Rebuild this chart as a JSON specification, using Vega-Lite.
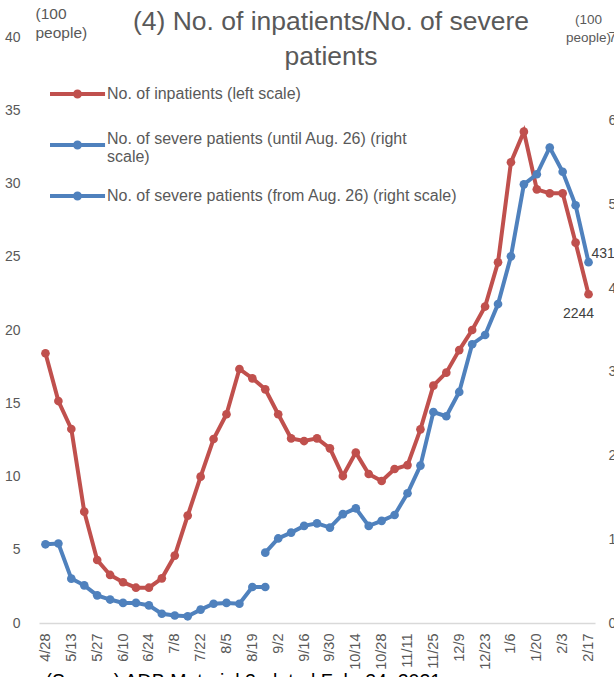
{
  "$schema": "https://vega.github.io/schema/vega-lite/v6.json",
  "width": 556,
  "height": 586,
  "autosize": "none",
  "padding": {"left": 39, "top": 37, "right": 19, "bottom": 54},
  "title": {
    "text": ["(4) No. of inpatients/No. of severe", "patients"],
    "font": "Liberation Sans",
    "fontSize": 26.5,
    "fontWeight": "normal",
    "color": "#595959",
    "anchor": "middle",
    "frame": "group",
    "lineHeight": 35,
    "offset": -64,
    "dx": 14
  },
  "config": {
    "view": {"stroke": null},
    "axis": {
      "grid": false,
      "ticks": false,
      "labelFont": "Liberation Sans",
      "labelColor": "#595959",
      "labelFontSize": 14,
      "titleFont": "Liberation Sans",
      "titleColor": "#595959",
      "titleFontWeight": "normal"
    },
    "legend": {
      "orient": "none",
      "legendX": 9,
      "legendY": 40,
      "symbolType": "M-1,0H2.67M1,0A0.167,0.167,0,1,1,0.666,0A0.167,0.167,0,1,1,1,0M0,-1.4M0,1.4",
      "symbolSize": 900,
      "symbolStrokeWidth": 4,
      "labelFont": "Liberation Sans",
      "labelFontSize": 16,
      "labelColor": "#595959",
      "labelOffset": 25,
      "labelLimit": 500,
      "rowPadding": -7
    }
  },
  "data": {
    "values": [
      {"date": "4/28", "series": "inp", "value": 18.41},
      {"date": "5/6", "series": "inp", "value": 15.15},
      {"date": "5/13", "series": "inp", "value": 13.24},
      {"date": "5/20", "series": "inp", "value": 7.6},
      {"date": "5/27", "series": "inp", "value": 4.3},
      {"date": "6/3", "series": "inp", "value": 3.28},
      {"date": "6/10", "series": "inp", "value": 2.78},
      {"date": "6/17", "series": "inp", "value": 2.41},
      {"date": "6/24", "series": "inp", "value": 2.41},
      {"date": "7/1", "series": "inp", "value": 3.05},
      {"date": "7/8", "series": "inp", "value": 4.6},
      {"date": "7/15", "series": "inp", "value": 7.33},
      {"date": "7/22", "series": "inp", "value": 9.99},
      {"date": "7/29", "series": "inp", "value": 12.56},
      {"date": "8/5", "series": "inp", "value": 14.25},
      {"date": "8/12", "series": "inp", "value": 17.34},
      {"date": "8/19", "series": "inp", "value": 16.7},
      {"date": "8/26", "series": "inp", "value": 15.95},
      {"date": "9/2", "series": "inp", "value": 14.25},
      {"date": "9/9", "series": "inp", "value": 12.6},
      {"date": "9/16", "series": "inp", "value": 12.42},
      {"date": "9/23", "series": "inp", "value": 12.6},
      {"date": "9/30", "series": "inp", "value": 11.92},
      {"date": "10/7", "series": "inp", "value": 10.03},
      {"date": "10/14", "series": "inp", "value": 11.63},
      {"date": "10/21", "series": "inp", "value": 10.17},
      {"date": "10/28", "series": "inp", "value": 9.69},
      {"date": "11/4", "series": "inp", "value": 10.51},
      {"date": "11/11", "series": "inp", "value": 10.78},
      {"date": "11/18", "series": "inp", "value": 13.22},
      {"date": "11/25", "series": "inp", "value": 16.2},
      {"date": "12/2", "series": "inp", "value": 17.09},
      {"date": "12/9", "series": "inp", "value": 18.63},
      {"date": "12/16", "series": "inp", "value": 20.0},
      {"date": "12/23", "series": "inp", "value": 21.6},
      {"date": "12/30", "series": "inp", "value": 24.62},
      {"date": "1/6", "series": "inp", "value": 31.45},
      {"date": "1/13", "series": "inp", "value": 33.54},
      {"date": "1/20", "series": "inp", "value": 29.6},
      {"date": "1/27", "series": "inp", "value": 29.33},
      {"date": "2/3", "series": "inp", "value": 29.33},
      {"date": "2/10", "series": "inp", "value": 25.96},
      {"date": "2/17", "series": "inp", "value": 22.44},
      {"date": "4/28", "series": "sev1", "value": 0.94},
      {"date": "5/6", "series": "sev1", "value": 0.95},
      {"date": "5/13", "series": "sev1", "value": 0.53},
      {"date": "5/20", "series": "sev1", "value": 0.45},
      {"date": "5/27", "series": "sev1", "value": 0.33},
      {"date": "6/3", "series": "sev1", "value": 0.28},
      {"date": "6/10", "series": "sev1", "value": 0.24},
      {"date": "6/17", "series": "sev1", "value": 0.24},
      {"date": "6/24", "series": "sev1", "value": 0.21},
      {"date": "7/1", "series": "sev1", "value": 0.11},
      {"date": "7/8", "series": "sev1", "value": 0.09},
      {"date": "7/15", "series": "sev1", "value": 0.08},
      {"date": "7/22", "series": "sev1", "value": 0.16},
      {"date": "7/29", "series": "sev1", "value": 0.23},
      {"date": "8/5", "series": "sev1", "value": 0.24},
      {"date": "8/12", "series": "sev1", "value": 0.23},
      {"date": "8/19", "series": "sev1", "value": 0.43},
      {"date": "8/26", "series": "sev1", "value": 0.43},
      {"date": "8/26", "series": "sev2", "value": 0.84},
      {"date": "9/2", "series": "sev2", "value": 1.01},
      {"date": "9/9", "series": "sev2", "value": 1.08},
      {"date": "9/16", "series": "sev2", "value": 1.16},
      {"date": "9/23", "series": "sev2", "value": 1.19},
      {"date": "9/30", "series": "sev2", "value": 1.14},
      {"date": "10/7", "series": "sev2", "value": 1.30},
      {"date": "10/14", "series": "sev2", "value": 1.37},
      {"date": "10/21", "series": "sev2", "value": 1.16},
      {"date": "10/28", "series": "sev2", "value": 1.22},
      {"date": "11/4", "series": "sev2", "value": 1.29},
      {"date": "11/11", "series": "sev2", "value": 1.55},
      {"date": "11/18", "series": "sev2", "value": 1.88},
      {"date": "11/25", "series": "sev2", "value": 2.52},
      {"date": "12/2", "series": "sev2", "value": 2.47},
      {"date": "12/9", "series": "sev2", "value": 2.76},
      {"date": "12/16", "series": "sev2", "value": 3.33},
      {"date": "12/23", "series": "sev2", "value": 3.44},
      {"date": "12/30", "series": "sev2", "value": 3.81},
      {"date": "1/6", "series": "sev2", "value": 4.38},
      {"date": "1/13", "series": "sev2", "value": 5.24},
      {"date": "1/20", "series": "sev2", "value": 5.36},
      {"date": "1/27", "series": "sev2", "value": 5.68},
      {"date": "2/3", "series": "sev2", "value": 5.39},
      {"date": "2/10", "series": "sev2", "value": 4.99},
      {"date": "2/17", "series": "sev2", "value": 4.31}
    ]
  },
  "encoding": {
    "x": {
      "field": "date",
      "type": "ordinal",
      "sort": null,
      "scale": {
        "type": "point",
        "padding": 0.5,
        "domain": ["4/28","5/6","5/13","5/20","5/27","6/3","6/10","6/17","6/24","7/1","7/8","7/15","7/22","7/29","8/5","8/12","8/19","8/26","9/2","9/9","9/16","9/23","9/30","10/7","10/14","10/21","10/28","11/4","11/11","11/18","11/25","12/2","12/9","12/16","12/23","12/30","1/6","1/13","1/20","1/27","2/3","2/10","2/17"]
      },
      "axis": {
        "values": ["4/28","5/13","5/27","6/10","6/24","7/8","7/22","8/5","8/19","9/2","9/16","9/30","10/14","10/28","11/11","11/25","12/9","12/23","1/6","1/20","2/3","2/17"],
        "labelAngle": -90,
        "labelPadding": 10,
        "labelFontSize": 14.5,
        "domainColor": "#D9D9D9",
        "domainWidth": 1.5,
        "title": "(Source) ADB Material 2: dated Feb. 24, 2021",
        "titleFontSize": 19.5,
        "titleColor": "#000000",
        "titleAnchor": "start",
        "titleAlign": "left",
        "titleBaseline": "alphabetic",
        "titleX": 6,
        "titleY": 64
      }
    }
  },
  "layer": [
    {
      "transform": [{"filter": "datum.series === 'inp'"}],
      "encoding": {
        "y": {
          "field": "value",
          "type": "quantitative",
          "scale": {"domain": [0, 40], "nice": false},
          "axis": {
            "orient": "left",
            "values": [0, 5, 10, 15, 20, 25, 30, 35, 40],
            "domain": false,
            "labelPadding": 19,
            "title": ["(100", "people)"],
            "titleFontSize": 15.5,
            "titleAngle": 0,
            "titleAlign": "left",
            "titleBaseline": "alphabetic",
            "titleLineHeight": 19,
            "titleX": -4,
            "titleY": -19
          }
        }
      },
      "layer": [
        {
          "mark": {"type": "line", "strokeWidth": 4, "point": {"filled": true, "size": 75}},
          "encoding": {
            "color": {
              "field": "series",
              "type": "nominal",
              "scale": {"domain": ["inp", "sev1", "sev2"], "range": ["#C0504D", "#4F81BD", "#4F81BD"]},
              "legend": {
                "title": null,
                "labelExpr": "datum.value == 'inp' ? 'No. of inpatients (left scale)' : datum.value == 'sev1' ? ['No. of severe patients (until Aug. 26) (right', 'scale)'] : 'No. of severe patients (from Aug. 26) (right scale)'",
                "encode": {
                  "labels": {"update": {"dy": {"signal": "datum.value == 'sev1' ? -6 : 0"}}}
                }
              }
            }
          }
        },
        {
          "transform": [
            {"filter": "datum.date === '2/17'"},
            {"calculate": "format(datum.value * 100, 'd')", "as": "lbl"}
          ],
          "mark": {"type": "text", "dy": 20, "dx": -10, "font": "Liberation Sans", "fontSize": 14, "color": "#404040"},
          "encoding": {"text": {"field": "lbl"}}
        }
      ]
    },
    {
      "transform": [{"filter": "datum.series !== 'inp'"}],
      "encoding": {
        "y": {
          "field": "value",
          "type": "quantitative",
          "scale": {"domain": [0, 7], "nice": false},
          "axis": {
            "orient": "right",
            "values": [0, 1, 2, 3, 4, 5, 6, 7],
            "domain": false,
            "labelPadding": 13,
            "title": ["(100", "people)"],
            "titleFontSize": 13.5,
            "titleAngle": 0,
            "titleAlign": "center",
            "titleBaseline": "alphabetic",
            "titleLineHeight": 18,
            "titleX": -7,
            "titleY": -14
          }
        }
      },
      "layer": [
        {
          "mark": {"type": "line", "strokeWidth": 4, "point": {"filled": true, "size": 75}},
          "encoding": {
            "color": {"field": "series", "type": "nominal"}
          }
        },
        {
          "transform": [
            {"filter": "datum.date === '2/17'"},
            {"calculate": "format(datum.value * 100, 'd')", "as": "lbl"}
          ],
          "mark": {"type": "text", "align": "left", "dx": 3, "dy": -8, "font": "Liberation Sans", "fontSize": 14, "color": "#404040"},
          "encoding": {"text": {"field": "lbl"}}
        }
      ]
    }
  ],
  "resolve": {"scale": {"y": "independent"}}
}
